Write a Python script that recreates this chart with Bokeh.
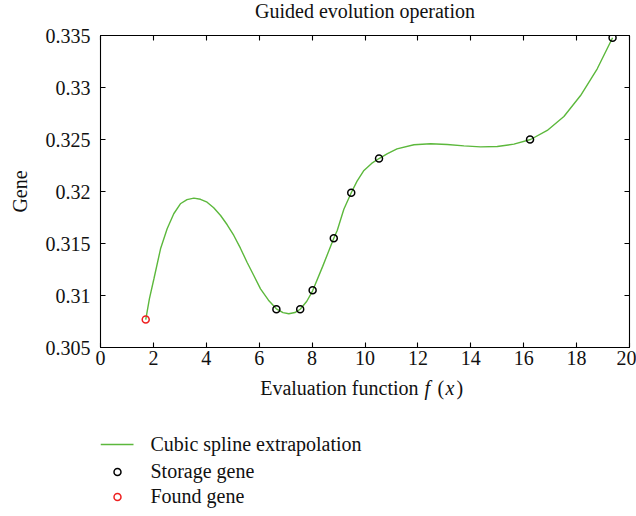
from bokeh.plotting import figure
from bokeh.layouts import column
from bokeh.models import (LinearAxis, FixedTicker, CustomJSTickFormatter, Range1d,
                          ColumnDataSource)
from bokeh.embed import file_html
from bokeh.resources import INLINE

# ---- data ----
curve_x = [1.71, 1.85, 2.02, 2.27, 2.52, 2.77, 3.02, 3.27, 3.53, 3.78, 4.03, 4.28, 4.54,
           4.79, 5.04, 5.29, 5.54, 5.80, 6.05, 6.35, 6.65, 6.90, 7.12, 7.35, 7.55, 7.80,
           8.02, 8.40, 8.82, 8.95, 9.20, 9.48, 9.70, 9.96, 10.25, 10.53, 10.85, 11.21,
           11.85, 12.48, 13.11, 13.74, 14.37, 15.00, 15.63, 16.26, 16.89, 17.52,
           18.15, 18.78, 19.36]
curve_y = [0.30769, 0.3097, 0.31161, 0.31449, 0.31641, 0.31786, 0.31882, 0.31922, 0.31936,
           0.31925, 0.31897, 0.31843, 0.31769, 0.31680, 0.31577, 0.31455, 0.31320, 0.31190,
           0.31064, 0.30955, 0.30872, 0.30835, 0.30824, 0.30836, 0.30868, 0.30945,
           0.31045, 0.31280, 0.31550, 0.31625, 0.31830, 0.31988, 0.32100, 0.32202, 0.32270,
           0.32317, 0.32365, 0.32410, 0.32449, 0.32459, 0.32452, 0.32439, 0.32429,
           0.32433, 0.32455, 0.32500, 0.32587, 0.32721, 0.32923, 0.33180, 0.33478]

storage_x = [6.65, 7.55, 8.02, 8.82, 9.48, 10.53, 16.24, 19.36]
storage_y = [0.30868, 0.30868, 0.31050, 0.31550, 0.31988, 0.32317, 0.32500, 0.33478]

found_x = [1.71]
found_y = [0.30769]

x_ticks = [0, 2, 4, 6, 8, 10, 12, 14, 16, 18, 20]
y_ticks = [0.305, 0.31, 0.315, 0.32, 0.325, 0.33, 0.335]

title_text = "Guided evolution operation"
x_label_parts = ["Evaluation function", "f", "(", "x", ")"]
x_label_styles = ["normal", "italic", "normal", "italic", "normal"]
y_label = "Gene"
legend_labels = ["Cubic spline extrapolation", "Storage gene", "Found gene"]

FONT = "Liberation Serif"
FS = "20px"
GREEN = "#5cb83c"
RED = "#ee2020"
TXT = "#111111"
TEXT_SHIFT = 8   # text glyphs render this much below the requested baseline

W = 636
H0 = 25          # title strip
TOP1 = 10        # room above the frame for the top tick label
BOT1 = 27        # room below the frame for the x tick labels
H1 = TOP1 + 312 + BOT1
H2 = 516 - H0 - H1
LEFT, RIGHT = 100, 629


def strip(height):
    f = figure(width=W, height=height, output_backend="svg", toolbar_location=None,
               x_range=Range1d(LEFT, RIGHT), y_range=Range1d(height, 0),
               min_border_left=LEFT, min_border_right=W - RIGHT,
               min_border_top=0, min_border_bottom=0,
               x_axis_type=None, y_axis_type=None)
    f.xgrid.visible = False
    f.ygrid.visible = False
    f.outline_line_color = None
    f.background_fill_color = "white"
    f.border_fill_color = "white"
    return f


# ---- title strip ----
p0 = strip(H0)
p0.text(x=[(LEFT + RIGHT) / 2], y=[18 - TEXT_SHIFT], text=[title_text], text_align="center",
        text_baseline="alphabetic", text_font=FONT, text_font_size=FS, text_color=TXT)

# ---- main plot ----
p = figure(width=W, height=H1, output_backend="svg", toolbar_location=None,
           x_range=Range1d(0, 20), y_range=Range1d(0.305, 0.335),
           min_border_left=LEFT, min_border_right=W - RIGHT, min_border_top=TOP1,
           min_border_bottom=BOT1, x_axis_type=None, y_axis_type=None)
p.xgrid.visible = False
p.ygrid.visible = False
p.outline_line_color = "black"
p.outline_line_width = 1.1
p.background_fill_color = "white"
p.border_fill_color = "white"

fmt = CustomJSTickFormatter(code="return String(Number(tick.toFixed(4)));")
blank_fmt = CustomJSTickFormatter(code="return '';")


def style_axis(ax, show_labels):
    ax.axis_line_color = None
    ax.major_tick_in = 5
    ax.major_tick_out = 0
    ax.major_tick_line_color = "black"
    ax.major_tick_line_width = 1.1
    ax.minor_tick_line_color = None
    ax.major_label_text_font = FONT
    ax.major_label_text_color = TXT
    if show_labels:
        ax.major_label_text_font_size = FS
    else:
        ax.major_label_text_font_size = "0px"
        ax.major_label_standoff = 0


xb = LinearAxis(ticker=FixedTicker(ticks=x_ticks), formatter=fmt)
style_axis(xb, True)
xb.major_label_standoff = 3
p.add_layout(xb, "below")

xt = LinearAxis(ticker=FixedTicker(ticks=x_ticks), formatter=blank_fmt)
style_axis(xt, False)
p.add_layout(xt, "above")

yl = LinearAxis(ticker=FixedTicker(ticks=y_ticks), formatter=fmt)
style_axis(yl, True)
yl.major_label_standoff = 10
yl.axis_label = y_label
yl.axis_label_text_font = FONT
yl.axis_label_text_font_size = FS
yl.axis_label_text_font_style = "normal"
yl.axis_label_text_color = TXT
yl.axis_label_standoff = 12
p.add_layout(yl, "left")

yr = LinearAxis(ticker=FixedTicker(ticks=y_ticks), formatter=blank_fmt)
style_axis(yr, False)
p.add_layout(yr, "right")

p.line(curve_x, curve_y, line_color=GREEN, line_width=1.4)
p.scatter(storage_x, storage_y, marker="circle", size=7, fill_color=None,
          line_color="black", line_width=1.5)
p.scatter(found_x, found_y, marker="circle", size=7, fill_color=None,
          line_color=RED, line_width=1.5)

# ---- lower strip: x-axis label (italic f and x) and the legend ----
p2 = strip(H2)
Y0 = H0 + H1     # page y where the lower strip begins

lab_src = ColumnDataSource(dict(
    x=[418, 424, 437, 445, 456],
    y=[395 - Y0 - TEXT_SHIFT] * 5,
    text=x_label_parts,
    style=x_label_styles,
    align=["right", "left", "left", "left", "left"],
))
p2.text(x="x", y="y", text="text", source=lab_src, text_font_style="style",
        text_align="align", text_baseline="alphabetic", text_font=FONT,
        text_font_size=FS, text_color=TXT)

# legend (symbol column at x 100..133, labels from x 150)
p2.line(x=[100, 133], y=[444 - Y0, 444 - Y0], line_color=GREEN, line_width=1.4)
p2.scatter(x=[117], y=[471.5 - Y0], marker="circle", size=7, fill_color=None,
           line_color="black", line_width=1.5)
p2.scatter(x=[117], y=[496.5 - Y0], marker="circle", size=7, fill_color=None,
           line_color=RED, line_width=1.5)
p2.text(x=[150, 150, 150],
        y=[451 - Y0 - TEXT_SHIFT, 478 - Y0 - TEXT_SHIFT, 503 - Y0 - TEXT_SHIFT],
        text=legend_labels, text_align="left", text_baseline="alphabetic",
        text_font=FONT, text_font_size=FS, text_color=TXT)

layout = column(p0, p, p2, spacing=0)
open("out.html", "w").write(file_html(layout, INLINE))
